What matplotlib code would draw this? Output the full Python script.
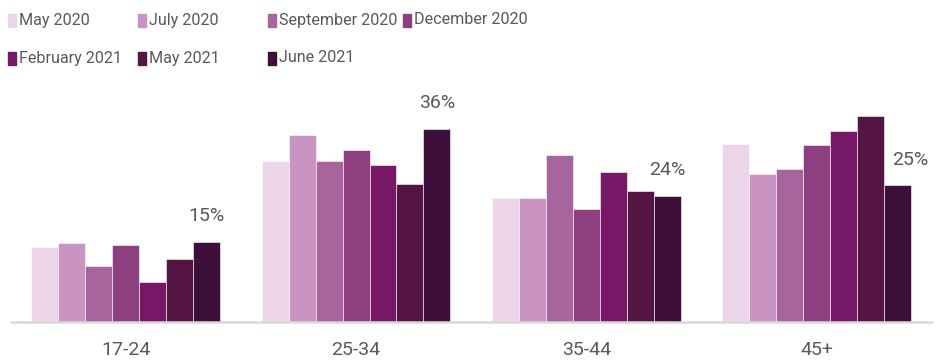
import matplotlib
matplotlib.use('Agg')
import matplotlib.pyplot as plt
import numpy as np
from matplotlib.patches import Rectangle

plt.rcParams['font.family'] = ['Roboto', 'DejaVu Sans']

# data
age_groups = ['17-24', '25-34', '35-44', '45+']
periods = ['May 2020', 'July 2020', 'September 2020', 'December 2020',
           'February 2021', 'May 2021', 'June 2021']
colors = ['#ecd5e8', '#c994c2', '#a8649c', '#8e3f80', '#771866', '#541444', '#3e0f3a']

may_2020 = [13.9, 30.0, 23.2, 33.3]
jul_2020 = [14.7, 34.9, 23.1, 27.6]
sep_2020 = [10.5, 30.1, 31.2, 28.5]
dec_2020 = [14.4, 32.0, 21.0, 33.1]
feb_2021 = [7.5, 29.2, 27.9, 35.7]
may_2021 = [11.8, 25.7, 24.4, 38.4]
jun_2021 = [15.0, 36.1, 23.6, 25.5]
series = [may_2020, jul_2020, sep_2020, dec_2020, feb_2021, may_2021, jun_2021]
jun_labels = ['15%', '36%', '24%', '25%']

txt_color = '#595959'
W, H = 949, 363

fig = plt.figure(figsize=(W / 100, H / 100), dpi=100)
ax = fig.add_axes([10.5 / W, (H - 322) / H, (932 - 10.5) / W, (322 - 100) / H])

x = np.arange(len(age_groups))
bw = 0.117
for i, (vals, c) in enumerate(zip(series, colors)):
    offs = (i - 3) * bw
    ax.bar(x + offs, vals, width=bw, color=c, edgecolor='white', linewidth=0.4)

# value labels over June 2021 bars
for j, lab in enumerate(jun_labels):
    dx = 9 if j == 3 else 0
    ax.annotate(lab, (x[j] + 3 * bw, jun_2021[j]), xytext=(dx, 12),
                textcoords='offset points', ha='center', va='bottom',
                fontsize=14, color=txt_color)

ax.set_xlim(-0.5, 3.5)
ax.set_ylim(0, 222 / 5.36)
ax.set_xticks(x)
ax.set_xticklabels(age_groups, fontsize=14, color=txt_color)
ax.tick_params(axis='x', length=0, pad=14)
ax.set_yticks([])
for s in ['top', 'left', 'right']:
    ax.spines[s].set_visible(False)
ax.spines['bottom'].set_color('#d9d9d9')
ax.spines['bottom'].set_linewidth(1.8)

# legend laid out on a fixed grid
col_x = [8, 138, 268, 403]
for i, (name, c) in enumerate(zip(periods, colors)):
    row, col = divmod(i, 4)
    lx = col_x[col]
    ly = 20 + row * 38
    fig.patches.append(Rectangle((lx / W, 1 - (ly + 7) / H), 8 / W, 13 / H,
                                 transform=fig.transFigure, color=c))
    fig.text((lx + 11) / W, 1 - ly / H, name, fontsize=11.6, color=txt_color,
             va='center', ha='left')

plt.savefig('out.png', dpi=100)
